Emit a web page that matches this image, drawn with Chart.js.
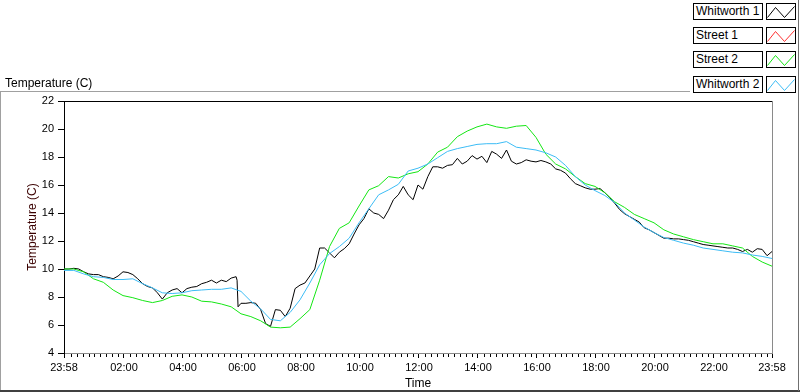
<!DOCTYPE html>
<html><head><meta charset="utf-8">
<script src="https://cdn.jsdelivr.net/npm/chart.js@4.4.1/dist/chart.umd.min.js"></script>
<style>
html,body{margin:0;padding:0;background:#fff;}
#wrap{position:relative;width:800px;height:392px;overflow:hidden;font-family:"Liberation Sans",Arial,sans-serif;background:#fff;}
#c{position:absolute;left:0;top:0;}
.hdr{position:absolute;left:5px;top:76px;font-size:12px;line-height:14px;color:#000;white-space:nowrap;}
.lt{position:absolute;left:693px;width:66px;height:15px;border:1px solid #000;background:#fff;font-size:12px;line-height:15px;padding-left:2px;white-space:nowrap;color:#000;}
.ls{position:absolute;left:766px;width:28px;height:15px;border:1px solid #000;background:#fff;}
.ls svg{position:absolute;left:0;top:0;}
.fr{position:absolute;}
</style></head>
<body>
<div id="wrap">
<canvas id="c" width="800" height="392"></canvas>
<div class="hdr">Temperature (C)</div>
<div id="legend"></div>
<div class="fr" style="left:0;top:91px;width:1px;height:300px;background:#a0a0a0"></div>
<div class="fr" style="left:0;top:91px;width:690px;height:1px;background:#a0a0a0"></div>
<div class="fr" style="left:0;top:390px;width:800px;height:2px;background:#404040"></div>
<div class="fr" style="left:798px;top:0;width:1px;height:391px;background:#707070"></div>
</div>
<script>
// time axis: minutes after 23:58
const minutesW1 = [0,10,20,30,40,50,60,70,80,90,100,110,120,130,140,150,160,170,180,190,200,210,220,230,240,250,260,270,280,290,300,310,320,330,340,350,352,354,360,370,380,390,400,410,420,430,440,450,460,470,480,490,500,510,520,530,540,550,560,570,580,590,600,610,620,630,640,650,660,670,680,690,700,710,720,730,740,750,760,770,780,790,800,810,820,830,840,850,860,870,880,890,900,910,920,930,940,950,960,970,980,990,1000,1010,1020,1030,1040,1050,1060,1070,1080,1090,1100,1110,1120,1130,1140,1150,1160,1170,1180,1190,1200,1210,1220,1230,1240,1250,1260,1270,1280,1290,1300,1310,1320,1330,1340,1350,1360,1370,1380,1390,1400,1410,1420,1430,1440];
const minutes20 = [0,20,40,60,80,100,120,140,160,180,200,220,240,260,280,300,320,340,360,380,400,420,440,460,480,500,520,540,560,580,600,620,640,660,680,700,720,740,760,780,800,820,840,860,880,900,920,940,960,980,1000,1020,1040,1060,1080,1100,1120,1140,1160,1180,1200,1220,1240,1260,1280,1300,1320,1340,1360,1380,1400,1420,1440];

const whitworth1 = [10.0,10.0,10.05,10.0,9.8,9.65,9.6,9.6,9.45,9.4,
 9.3,9.5,9.8,9.75,9.6,9.3,8.95,8.75,8.65,8.3,
 7.85,8.3,8.5,8.6,8.3,8.6,8.7,8.75,8.95,9.05,
 9.2,9.0,9.2,9.1,9.35,9.45,9.2,7.3,7.55,7.55,7.6,7.55,
 7.1,6.1,5.9,7.1,7.05,6.6,7.2,8.6,8.85,9.0,
 9.5,10.0,11.5,11.5,11.15,10.8,11.2,11.45,11.8,12.5,
 13.15,13.6,14.3,14.0,13.9,13.6,14.2,14.95,15.3,15.9,
 15.3,14.95,16.0,15.7,16.6,17.3,17.3,17.2,17.4,17.45,
 17.9,17.5,17.7,18.1,17.85,18.05,17.6,18.4,18.2,17.9,
 18.5,17.7,17.5,17.6,17.8,17.7,17.65,17.75,17.65,17.5,
 17.15,17.05,16.85,16.45,16.1,15.95,15.8,15.7,15.7,15.75,
 15.45,15.1,14.7,14.25,13.95,13.75,13.55,13.35,12.95,12.8,
 12.6,12.4,12.2,12.2,12.15,12.15,12.1,12.05,11.95,11.85,
 11.75,11.7,11.65,11.6,11.55,11.5,11.5,11.4,11.25,11.4,
 11.2,11.45,11.4,10.95,11.25];
const street1 = [];
const street2 = [10.0,10.0,9.8,9.3,9.05,8.5,8.1,7.95,7.75,7.6,
 7.75,8.05,8.15,8.0,7.7,7.65,7.5,7.3,6.8,6.6,
 6.3,5.85,5.8,5.85,6.45,7.1,9.2,11.6,12.9,13.3,
 14.5,15.65,15.95,16.6,16.5,16.8,16.95,17.5,18.35,18.7,
 19.45,19.85,20.15,20.35,20.15,20.05,20.2,20.25,19.4,18.2,
 17.5,17.15,16.6,16.1,15.9,15.45,14.8,14.4,13.9,13.6,
 13.3,12.8,12.5,12.3,12.1,11.95,11.8,11.8,11.65,11.5,
 10.9,10.5,10.2];
const whitworth2 = [9.9,9.9,9.65,9.45,9.4,9.25,9.25,9.3,8.95,8.65,
 8.3,8.25,8.3,8.45,8.5,8.55,8.55,8.65,8.4,7.7,
 7.15,6.4,6.3,6.9,7.8,9.0,10.3,11.1,11.6,12.2,
 13.3,14.3,15.3,15.65,16.05,17.0,17.2,17.5,17.95,18.4,
 18.6,18.75,18.9,18.95,18.95,19.1,18.7,18.6,18.5,18.3,
 18.0,17.4,16.6,16.0,15.6,15.25,14.75,14.0,13.5,13.0,
 12.6,12.25,12.05,11.85,11.7,11.5,11.4,11.3,11.2,11.15,
 11.0,10.9,10.75];

const seriesNames = ['Whitworth 1','Street 1','Street 2','Whitworth 2'];
const seriesColors = ['#000000','#ff3030','#14e614','#3cbcf5'];
const majorTickMinutes = [0,122,242,362,482,602,722,842,962,1082,1202,1322,1440];
const majorTickLabels = ['23:58','02:00','04:00','06:00','08:00','10:00','12:00','14:00','16:00','18:00','20:00','22:00','23:58'];

const pts = (t, v) => v.map((y, i) => ({x: t[i], y}));

// legend
const lg = document.getElementById('legend');
seriesNames.forEach((n, i) => {
  const top = 3 + i * 24.2;
  const t = document.createElement('div');
  t.className = 'lt'; t.style.top = top + 'px'; t.textContent = n;
  lg.appendChild(t);
  const s = document.createElement('div');
  s.className = 'ls'; s.style.top = top + 'px';
  s.innerHTML = '<svg width="28" height="15"><polyline points="0.5,13.5 8.5,3.5 17.5,13.5 27.5,2.5" fill="none" stroke="' + seriesColors[i] + '" stroke-width="1"/></svg>';
  lg.appendChild(s);
});

const framePlugin = {
  id: 'frame',
  afterDraw(chart) {
    const {ctx, chartArea: a, scales: {x}} = chart;
    ctx.save();
    ctx.lineWidth = 1;
    ctx.strokeStyle = '#000';
    ctx.beginPath(); ctx.moveTo(a.left, a.top + 0.5); ctx.lineTo(a.right, a.top + 0.5); ctx.stroke();
    ctx.strokeStyle = '#8a8a8a';
    ctx.beginPath(); ctx.moveTo(a.right + 0.5, a.top); ctx.lineTo(a.right + 0.5, a.bottom + 1); ctx.stroke();
    ctx.strokeStyle = '#000';
    ctx.beginPath();
    for (let m = 14; m < 1440; m += 12) {
      if (majorTickMinutes.includes(m)) continue;
      const px = Math.round(x.getPixelForValue(m)) + 0.5;
      ctx.moveTo(px, a.bottom + 1); ctx.lineTo(px, a.bottom + 4);
    }
    ctx.stroke();
    ctx.restore();
  }
};

const tickFont = {family: '"Liberation Sans", Arial, sans-serif', size: 11};
const titleFont = {family: '"Liberation Sans", Arial, sans-serif', size: 12};

new Chart(document.getElementById('c'), {
  type: 'line',
  data: {
    datasets: [
      {label: seriesNames[0], data: pts(minutesW1, whitworth1), borderColor: seriesColors[0]},
      {label: seriesNames[1], data: street1, borderColor: seriesColors[1]},
      {label: seriesNames[2], data: pts(minutes20, street2), borderColor: seriesColors[2]},
      {label: seriesNames[3], data: pts(minutes20, whitworth2), borderColor: seriesColors[3]}
    ].map(d => Object.assign(d, {borderWidth: 1, pointRadius: 0, tension: 0, fill: false}))
      .reverse()
  },
  options: {
    responsive: false,
    animation: false,
    devicePixelRatio: 1,
    layout: {padding: {top: 101, right: 28, left: 0, bottom: 0}},
    plugins: {legend: {display: false}, tooltip: {enabled: false}},
    scales: {
      x: {
        type: 'linear', min: 0, max: 1440,
        afterFit: s => { s.height = 39; },
        afterBuildTicks: s => { s.ticks = majorTickMinutes.map(v => ({value: v})); },
        ticks: {
          autoSkip: false, maxRotation: 0, color: '#000', font: tickFont, padding: 3,
          callback: (v, i) => majorTickLabels[i]
        },
        grid: {drawOnChartArea: false, drawTicks: true, tickLength: 5, tickColor: '#000', color: '#000'},
        border: {display: true, color: '#8a8a8a', width: 1},
        title: {display: true, text: 'Time', color: '#000', font: titleFont, padding: {top: 0, bottom: 1}}
      },
      y: {
        min: 4, max: 22,
        afterFit: s => { s.width = 64; },
        ticks: {stepSize: 2, color: '#000', font: tickFont, padding: 4},
        grid: {drawOnChartArea: false, drawTicks: true, tickLength: 6, tickColor: '#000', color: '#000'},
        border: {display: true, color: '#000', width: 1},
        title: {display: true, text: 'Temperature (C)', color: '#3a0000', font: titleFont, padding: {top: 25, bottom: 0}}
      }
    }
  },
  plugins: [framePlugin]
});
</script>
</body></html>
